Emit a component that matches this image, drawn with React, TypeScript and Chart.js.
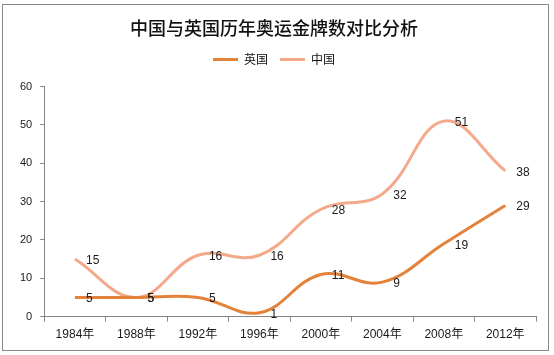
import React, { useEffect, useRef } from "react";
import { Chart, registerables } from "chart.js";

Chart.register(...registerables);

const titleText = "中国与英国历年奥运金牌数对比分析";
const categories = ["1984年", "1988年", "1992年", "1996年", "2000年", "2004年", "2008年", "2012年"];
const seriesNames = ["英国", "中国"];
const ukValues = [5, 5, 5, 1, 11, 9, 19, 29];
const chinaValues = [15, 5, 16, 16, 28, 32, 51, 38];
const yMin = 0;
const yMax = 60;
const yStep = 10;

const ukColor = "#E3823A";
const chinaColor = "#F3A98A";
const axisColor = "#868686";
const numFont = "'Liberation Sans', 'Noto Sans CJK SC', sans-serif";
const cjkFont = "'Noto Sans CJK SC', 'Liberation Sans', sans-serif";

const frameAndLabels = {
  id: "frameAndLabels",
  beforeDraw(chart: any) {
    const ctx = chart.ctx;
    ctx.save();
    ctx.fillStyle = "#ffffff";
    ctx.fillRect(0, 0, chart.width, chart.height);
    ctx.strokeStyle = "#8a8a8a";
    ctx.lineWidth = 1;
    ctx.strokeRect(2.5, 4.5, 546, 346);
    ctx.restore();
  },
  afterDatasetsDraw(chart: any) {
    const ctx = chart.ctx;
    ctx.save();
    ctx.font = "12px " + numFont;
    ctx.fillStyle = "#1a1a1a";
    ctx.textAlign = "left";
    ctx.textBaseline = "middle";
    chart.data.datasets.forEach((ds: any, i: number) => {
      const meta = chart.getDatasetMeta(i);
      meta.data.forEach((pt: any, j: number) => {
        ctx.fillText(String(ds.data[j]), pt.x + 11, pt.y + 1.5);
      });
    });
    ctx.restore();
  },
};

export default function App() {
  const canvasRef = useRef<HTMLCanvasElement | null>(null);

  useEffect(() => {
    if (!canvasRef.current) return;
    const chart = new Chart(canvasRef.current, {
      type: "line",
      data: {
        labels: categories,
        datasets: [
          {
            label: seriesNames[0],
            data: ukValues,
            borderColor: ukColor,
            backgroundColor: ukColor,
            borderWidth: 3,
            pointRadius: 0,
            tension: 0.4,
            fill: false,
          },
          {
            label: seriesNames[1],
            data: chinaValues,
            borderColor: chinaColor,
            backgroundColor: chinaColor,
            borderWidth: 3,
            pointRadius: 0,
            tension: 0.4,
            fill: false,
          },
        ],
      },
      options: {
        responsive: false,
        animation: false,
        devicePixelRatio: 1,
        layout: { padding: { top: 4, left: 12, right: 18, bottom: 7 } },
        plugins: {
          title: {
            display: true,
            text: titleText,
            color: "#111111",
            font: { family: cjkFont, size: 18, weight: "500", lineHeight: 1.2 },
            padding: { top: 13, bottom: 3 },
          },
          subtitle: {
            display: true,
            text: "",
            position: "top",
            weight: 500,
            font: { size: 1, lineHeight: 1 },
            padding: { top: 10, bottom: 0 },
          },
          legend: {
            display: true,
            position: "top",
            labels: {
              usePointStyle: true,
              pointStyle: "line",
              pointStyleWidth: 25,
              padding: 12,
              color: "#111111",
              font: { family: cjkFont, size: 12 },
            },
          },
          tooltip: { enabled: false },
        },
        scales: {
          x: {
            offset: true,
            grid: {
              display: true,
              drawOnChartArea: false,
              drawTicks: true,
              tickLength: 5,
              color: axisColor,
              offset: true,
            },
            border: { display: true, color: axisColor, width: 1 },
            ticks: {
              color: "#1a1a1a",
              padding: 6,
              maxRotation: 0,
              font: { family: numFont, size: 12 },
            },
          },
          y: {
            min: yMin,
            max: yMax,
            grid: {
              display: true,
              drawOnChartArea: false,
              drawTicks: true,
              tickLength: 4,
              color: axisColor,
            },
            border: { display: true, color: axisColor, width: 1 },
            ticks: {
              stepSize: yStep,
              color: "#1a1a1a",
              padding: 8,
              font: { family: numFont, size: 11 },
            },
          },
        },
      },
      plugins: [frameAndLabels],
    });
    return () => chart.destroy();
  }, []);

  return (
    <div style={{ position: "absolute", left: 0, top: 0, width: 554, height: 355, background: "#fff" }}>
      <canvas ref={canvasRef} width={554} height={355} style={{ width: 554, height: 355, display: "block" }} />
    </div>
  );
}
